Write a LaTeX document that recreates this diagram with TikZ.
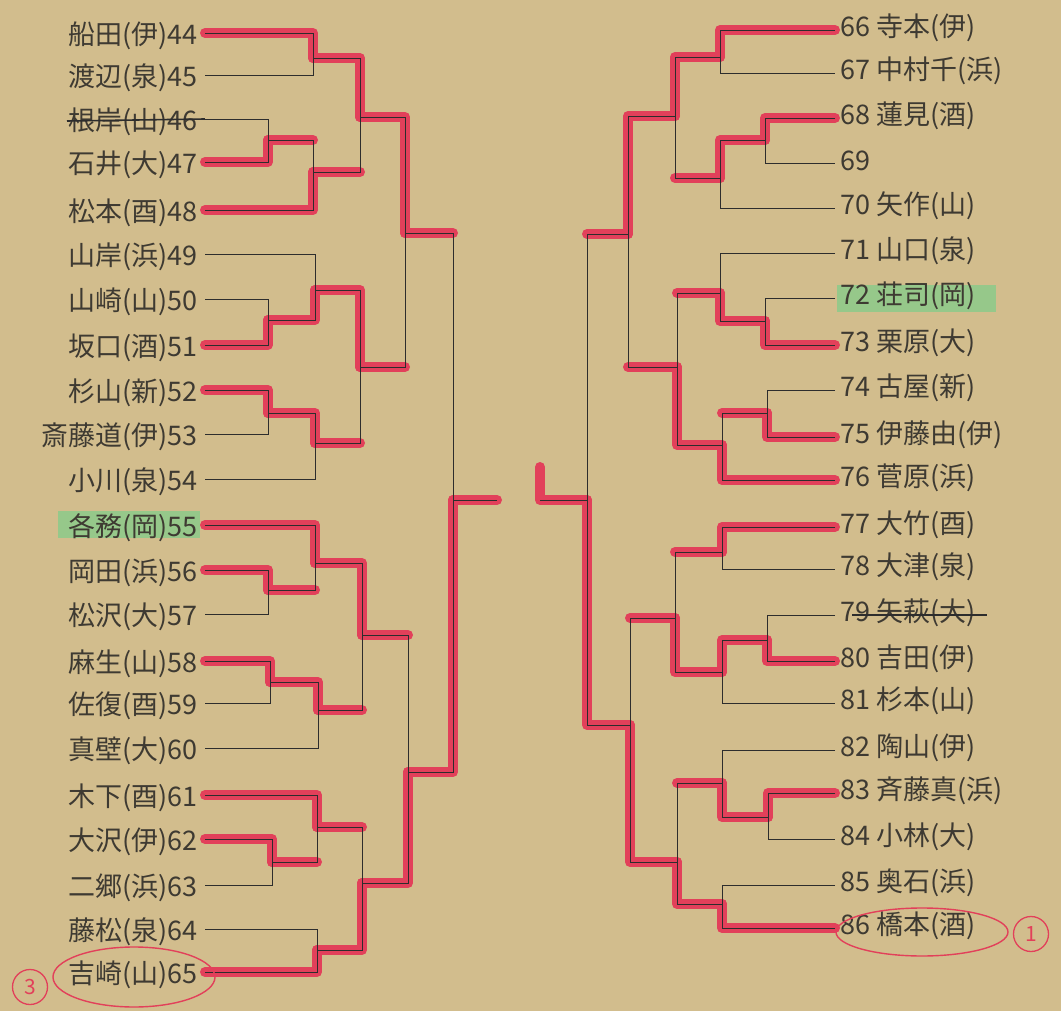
\documentclass[tikz,border=0pt]{standalone}
\usepackage{fontspec}
\setmainfont{Noto Sans CJK JP}
\definecolor{paper}{RGB}{210,189,141}
\definecolor{mark}{RGB}{226,64,90}
\definecolor{inkc}{RGB}{45,45,45}
\definecolor{pencil}{RGB}{62,58,50}
\definecolor{hl}{RGB}{150,200,138}
\newcommand\mblk[3]{\draw[blk] (#1) -- (#1 -| #3) -- (#2 -| #3) -- (#2);}
\newcommand\mwin[2]{\draw[rd] (#1) -- (#1 -| #2) -- (#2);}
\newcommand\mlos[2]{\draw[rd] (#1) -- (#1 -| #2);}
\begin{document}
\begin{tikzpicture}[x=1pt,y=-1pt,
  blk/.style={draw=inkc, line width=0.9pt},
  rd/.style={draw=mark, line width=10pt, line cap=round, line join=round},
  lab/.style={font=\fontsize{27}{27}\selectfont, text=pencil, inner sep=0pt},
  strike/.style={draw=inkc, line width=1.6pt},
  ring/.style={draw=mark, line width=1.4pt},
  rank/.style={circle, draw=mark, line width=1.3pt, minimum size=35pt, inner sep=0pt, text=mark, font=\fontsize{21}{21}\selectfont}]
\useasboundingbox (0,0) rectangle (1061,1011);
\fill[paper] (0,0) rectangle (1061,1011);
% highlights
\fill[hl] (58,511) rectangle (200,538);
\fill[hl] (837,285) rectangle (996,312);
% ---------- entry coordinates ----------
\coordinate (L44) at (205,33);  \coordinate (L45) at (205,75);
\coordinate (L46) at (205,119); \coordinate (L47) at (205,162);
\coordinate (L48) at (205,210); \coordinate (L49) at (205,254);
\coordinate (L50) at (205,299); \coordinate (L51) at (205,345);
\coordinate (L52) at (205,390); \coordinate (L53) at (205,434);
\coordinate (L54) at (205,479); \coordinate (L55) at (205,525);
\coordinate (L56) at (205,570); \coordinate (L57) at (205,614);
\coordinate (L58) at (205,661); \coordinate (L59) at (205,703);
\coordinate (L60) at (205,748); \coordinate (L61) at (205,795);
\coordinate (L62) at (205,839); \coordinate (L63) at (205,885);
\coordinate (L64) at (205,929); \coordinate (L65) at (205,972);
\coordinate (R66) at (835,30);  \coordinate (R67) at (835,73);
\coordinate (R68) at (835,118); \coordinate (R69) at (835,163);
\coordinate (R70) at (835,208); \coordinate (R71) at (835,253);
\coordinate (R72) at (835,298); \coordinate (R73) at (835,345);
\coordinate (R74) at (835,390); \coordinate (R75) at (835,437);
\coordinate (R76) at (835,480); \coordinate (R77) at (835,527);
\coordinate (R78) at (835,569); \coordinate (R79) at (835,615);
\coordinate (R80) at (835,661); \coordinate (R81) at (835,703);
\coordinate (R82) at (835,750); \coordinate (R83) at (835,793);
\coordinate (R84) at (835,839); \coordinate (R85) at (835,885);
\coordinate (R86) at (835,928);
% ---------- match outputs (join x, output y) ----------
\coordinate (a1) at (313,58);  \coordinate (a2) at (268,140);
\coordinate (a3) at (313,172); \coordinate (a4) at (360,117);
\coordinate (a5) at (268,320); \coordinate (a6) at (315,290);
\coordinate (a7) at (268,413); \coordinate (a8) at (315,443);
\coordinate (a9) at (360,367); \coordinate (a10) at (405,233);
\coordinate (b1) at (268,590); \coordinate (b2) at (315,563);
\coordinate (b3) at (270,682); \coordinate (b4) at (318,710);
\coordinate (b5) at (362,635); \coordinate (b6) at (272,862);
\coordinate (b7) at (317,827); \coordinate (b8) at (317,950);
\coordinate (b9) at (362,883); \coordinate (b10) at (408,772);
\coordinate (lf) at (453,500); \coordinate (lend) at (497,500);
\coordinate (c1) at (720,57);  \coordinate (c2) at (765,140);
\coordinate (c3) at (720,178); \coordinate (c4) at (675,116);
\coordinate (c5) at (765,321); \coordinate (c6) at (720,293);
\coordinate (c7) at (767,413); \coordinate (c8) at (722,445);
\coordinate (c9) at (677,367); \coordinate (c10) at (628,234);
\coordinate (d1) at (722,552); \coordinate (d2) at (767,640);
\coordinate (d3) at (722,672); \coordinate (d4) at (675,618);
\coordinate (d5) at (768,817); \coordinate (d6) at (722,783);
\coordinate (d7) at (722,904); \coordinate (d8) at (677,862);
\coordinate (d9) at (630,725); \coordinate (rf) at (587,500);
\coordinate (rend) at (540,500); \coordinate (rtick) at (540,467);
% ---------- red marker (winners) ----------
\mwin{L44}{a1} \mwin{L47}{a2} \mwin{L48}{a3} \mlos{a2}{a3}
\mwin{a1}{a4} \mlos{a3}{a4}
\mwin{L51}{a5} \mwin{a5}{a6} \mwin{L52}{a7} \mwin{a7}{a8}
\mwin{a6}{a9} \mlos{a8}{a9}
\mwin{a4}{a10} \mlos{a9}{a10}
\mwin{L56}{b1} \mwin{L55}{b2} \mlos{b1}{b2}
\mwin{L58}{b3} \mwin{b3}{b4}
\mwin{b2}{b5} \mlos{b4}{b5}
\mwin{L62}{b6} \mwin{L61}{b7} \mlos{b6}{b7}
\mwin{L65}{b8} \mwin{b8}{b9} \mlos{b7}{b9}
\mwin{b9}{b10} \mlos{b5}{b10}
\mwin{b10}{lf} \mlos{a10}{lf}
\draw[rd] (lf) -- (lend);
\mwin{R66}{c1} \mwin{R68}{c2} \mwin{c2}{c3}
\mwin{c1}{c4} \mlos{c3}{c4}
\mwin{R73}{c5} \mwin{c5}{c6} \mwin{R75}{c7} \mwin{R76}{c8} \mlos{c7}{c8}
\mwin{c8}{c9} \mlos{c6}{c9}
\mwin{c4}{c10} \mlos{c9}{c10}
\mwin{R77}{d1} \mwin{R80}{d2} \mwin{d2}{d3}
\mwin{d3}{d4} \mlos{d1}{d4}
\mwin{R83}{d5} \mwin{d5}{d6} \mwin{R86}{d7}
\mwin{d7}{d8} \mlos{d6}{d8}
\mwin{d8}{d9} \mlos{d4}{d9}
\mwin{d9}{rf} \mlos{c10}{rf}
\draw[rd] (rf) -- (rend) -- (rtick);
% ---------- pencil bracket ----------
\mblk{L44}{L45}{a1} \mblk{L46}{L47}{a2} \mblk{a2}{L48}{a3} \mblk{a1}{a3}{a4}
\mblk{L50}{L51}{a5} \mblk{L49}{a5}{a6} \mblk{L52}{L53}{a7} \mblk{a7}{L54}{a8}
\mblk{a6}{a8}{a9} \mblk{a4}{a9}{a10}
\mblk{L56}{L57}{b1} \mblk{L55}{b1}{b2} \mblk{L58}{L59}{b3} \mblk{b3}{L60}{b4}
\mblk{b2}{b4}{b5} \mblk{L62}{L63}{b6} \mblk{L61}{b6}{b7} \mblk{L64}{L65}{b8}
\mblk{b7}{b8}{b9} \mblk{b5}{b9}{b10} \mblk{a10}{b10}{lf}
\draw[blk] (lf) -- (lend);
\mblk{R66}{R67}{c1} \mblk{R68}{R69}{c2} \mblk{c2}{R70}{c3} \mblk{c1}{c3}{c4}
\mblk{R72}{R73}{c5} \mblk{R71}{c5}{c6} \mblk{R74}{R75}{c7} \mblk{c7}{R76}{c8}
\mblk{c6}{c8}{c9} \mblk{c4}{c9}{c10}
\mblk{R77}{R78}{d1} \mblk{R79}{R80}{d2} \mblk{d2}{R81}{d3} \mblk{d1}{d3}{d4}
\mblk{R83}{R84}{d5} \mblk{R82}{d5}{d6} \mblk{R85}{R86}{d7} \mblk{d6}{d7}{d8}
\mblk{d4}{d8}{d9} \mblk{c10}{d9}{rf}
\draw[blk] (rf) -- (rend);
% ---------- left labels ----------
\foreach \n/\t in {44/船田(伊)44, 45/渡辺(泉)45, 46/根岸(山)46, 47/石井(大)47,
  48/松本(酉)48, 49/山岸(浜)49, 50/山崎(山)50, 51/坂口(酒)51, 52/杉山(新)52,
  53/斎藤道(伊)53, 54/小川(泉)54, 55/各務(岡)55, 56/岡田(浜)56, 57/松沢(大)57,
  58/麻生(山)58, 59/佐復(酉)59, 60/真壁(大)60, 61/木下(酉)61, 62/大沢(伊)62,
  63/二郷(浜)63, 64/藤松(泉)64, 65/吉崎(山)65}
  \node[lab, anchor=east] (n\n) at ([xshift=-7pt, yshift=-3pt]L\n) {\t};
% ---------- right labels ----------
\foreach \n/\t in {66/66 寺本(伊), 67/67 中村千(浜), 68/68 蓮見(酒), 69/69,
  70/70 矢作(山), 71/71 山口(泉), 72/72 荘司(岡), 73/73 栗原(大), 74/74 古屋(新),
  75/75 伊藤由(伊), 76/76 菅原(浜), 77/77 大竹(酉), 78/78 大津(泉), 79/79 矢萩(大),
  80/80 吉田(伊), 81/81 杉本(山), 82/82 陶山(伊), 83/83 斉藤真(浜), 84/84 小林(大),
  85/85 奥石(浜), 86/86 橋本(酒)}
  \node[lab, anchor=west] (n\n) at ([xshift=5pt, yshift=2pt]R\n) {\t};
% struck-out entries
\draw[strike] (67,121) -- (L46);
\draw[strike] (852,615) -- (987,615);
% circled results
\draw[ring] (134,977) ellipse [x radius=81, y radius=30];
\draw[ring] (922,932) ellipse [x radius=86, y radius=24];
\node[rank] (rk3) at (30,987) {3};
\node[rank] (rk1) at (1031,934) {1};
\end{tikzpicture}
\end{document}
